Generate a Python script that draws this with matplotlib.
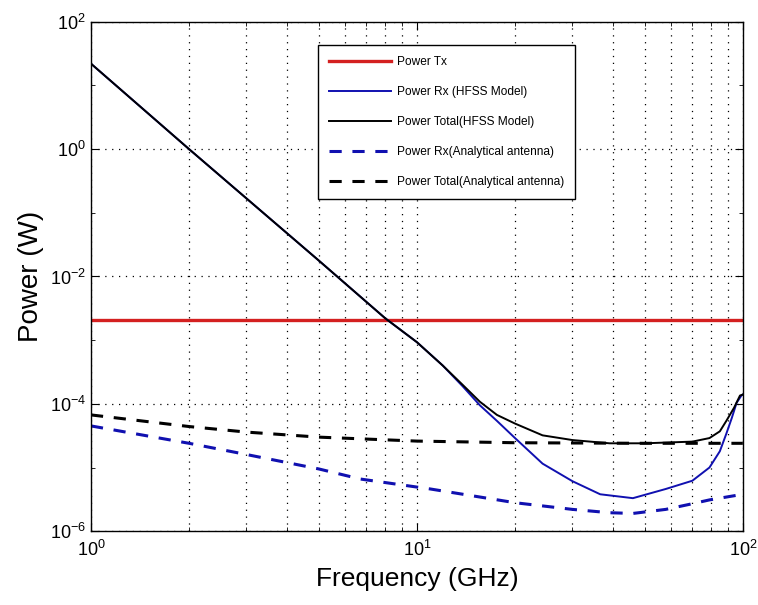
import matplotlib
matplotlib.use('Agg')
import matplotlib.pyplot as plt
from matplotlib.ticker import LogLocator, FixedLocator, NullFormatter

plt.rcParams['font.family'] = ['Liberation Sans', 'DejaVu Sans']
plt.rcParams['mathtext.fontset'] = 'custom'
plt.rcParams['mathtext.rm'] = 'Liberation Sans'

# Power Tx (flat)
f_tx = [1, 100]
p_tx = [2.1e-3, 2.1e-3]

# Power Rx (HFSS Model)
f_rx_hfss = [1, 2, 5, 8, 10, 12, 13.8, 15.6, 17.6, 20, 24.3, 30, 36.5, 46, 58, 70,
             79, 85, 89, 92.5, 95.7, 99, 100]
p_rx_hfss = [22, 1.0, 1.78e-2, 2.2e-3, 9.3e-4, 4.0e-4, 1.9e-4, 9.5e-5, 5.4e-5, 2.9e-5, 1.15e-5,
             6.1e-6, 3.8e-6, 3.3e-6, 4.6e-6, 6.2e-6, 1.0e-5, 1.8e-5, 3.4e-5, 6.0e-5, 1.04e-4,
             1.35e-4, 1.4e-4]

# Power Total (HFSS Model)
f_tot_hfss = [1, 2, 5, 8, 10, 12, 13.8, 15.6, 17.6, 20, 24.3, 30, 39, 50, 70, 79, 85, 89,
              94, 98, 100]
p_tot_hfss = [22, 1.0, 1.78e-2, 2.2e-3, 9.3e-4, 4.0e-4, 2.0e-4, 1.08e-4, 6.7e-5, 4.9e-5, 3.2e-5,
              2.7e-5, 2.4e-5, 2.4e-5, 2.55e-5, 2.9e-5, 3.7e-5, 5.4e-5, 8.7e-5, 1.35e-4, 1.4e-4]

# Power Rx (Analytical antenna)
f_rx_an = [1, 2, 3, 5, 6.7, 11, 20, 30, 39, 46, 58, 70, 79, 100]
p_rx_an = [4.5e-5, 2.4e-5, 1.6e-5, 9.5e-6, 6.6e-6, 4.6e-6, 2.8e-6, 2.2e-6, 1.95e-6, 1.9e-6,
           2.2e-6, 2.7e-6, 3.1e-6, 3.8e-6]

# Power Total (Analytical antenna)
f_tot_an = [1, 2, 3, 5, 10, 20, 50, 100]
p_tot_an = [6.7e-5, 4.4e-5, 3.6e-5, 3.0e-5, 2.6e-5, 2.45e-5, 2.4e-5, 2.4e-5]

y_major = [1e-6, 1e-4, 1e-2, 1e0, 1e2]
y_minor = [1e-5, 1e-3, 1e-1, 1e1]

fig = plt.figure(figsize=(7.58, 6.05), dpi=100)
ax = fig.add_axes([0.12, 0.122, 0.860, 0.842])

blue = '#1010b0'
ax.plot(f_tx, p_tx, color='#d42020', lw=2.4, label='Power Tx')
ax.plot(f_rx_hfss, p_rx_hfss, color=blue, lw=1.4, label='Power Rx (HFSS Model)')
ax.plot(f_tot_hfss, p_tot_hfss, color='black', lw=1.4, label='Power Total(HFSS Model)')
ax.plot(f_rx_an, p_rx_an, color=blue, lw=2.2, dashes=(4, 3.5), label='Power Rx(Analytical antenna)')
ax.plot(f_tot_an, p_tot_an, color='black', lw=2.2, dashes=(4, 3.5), label='Power Total(Analytical antenna)')

ax.set_xscale('log')
ax.set_yscale('log')
ax.set_xlim(1, 100)
ax.set_ylim(1e-6, 1e2)

ax.xaxis.set_major_locator(LogLocator(base=10, numticks=10))
ax.xaxis.set_minor_locator(LogLocator(base=10, subs=range(2, 10), numticks=20))
ax.xaxis.set_minor_formatter(NullFormatter())
ax.set_yticks(y_major)
ax.yaxis.set_minor_locator(FixedLocator(y_minor))
ax.yaxis.set_minor_formatter(NullFormatter())

ax.grid(True, which='major', axis='both', color='black', linestyle=(0, (1, 4.5)), lw=0.9)
ax.grid(True, which='minor', axis='x', color='black', linestyle=(0, (1, 4.5)), lw=0.9)

ax.tick_params(which='both', direction='in', top=True, right=True, labelsize=13)
ax.tick_params(which='major', length=6)
ax.tick_params(which='minor', length=3)
ax.tick_params(axis='x', pad=6)

for s in ax.spines.values():
    s.set_linewidth(1.0)

ax.set_xlabel('Frequency (GHz)', fontsize=19, labelpad=5)
ax.set_ylabel('Power (W)', fontsize=20, labelpad=4)

leg = ax.legend(loc='upper left', bbox_to_anchor=(0.348, 0.955), fontsize=8.6,
                handlelength=5.2, handletextpad=0.45, labelspacing=1.5,
                borderpad=0.95, fancybox=False, framealpha=1, edgecolor='black',
                borderaxespad=0)
leg.get_frame().set_linewidth(1.0)

fig.savefig('out.png', dpi=100)
